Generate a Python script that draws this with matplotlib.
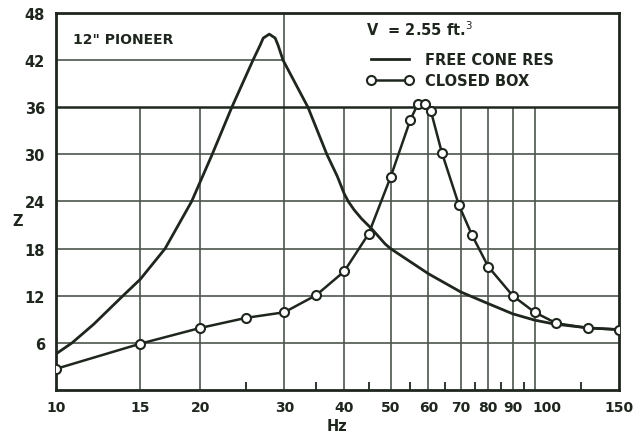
import matplotlib
matplotlib.use("Agg")
import matplotlib.pyplot as plt
import matplotlib.transforms as mtransforms
from matplotlib.ticker import FixedLocator, NullFormatter, FixedFormatter

# free cone resonance curve
free_hz = [10, 10.8, 12, 13.8, 15, 16.9, 19.2, 21.2, 23.3, 25.8, 26.7, 27.1, 27.9,
           28.7, 29.1, 29.8, 33.6, 36.8, 38.7, 40, 40.8, 42, 43.5, 45.7, 48.7, 50,
           60, 70, 80, 90, 100, 110, 130, 150]
free_z = [4.6, 6.0, 8.4, 12.0, 14.1, 18.0, 24.0, 30.0, 36.0, 42.0, 43.9, 44.8, 45.3,
          44.8, 43.9, 42.0, 36.0, 30.0, 27.2, 25.0, 24.0, 22.9, 21.8, 20.5, 18.6, 18.0,
          14.8, 12.5, 11.0, 9.7, 8.9, 8.4, 7.9, 7.7]

# closed box measurements
box_hz = [10, 15, 20, 25, 30, 35, 40, 45, 50, 55, 57, 59, 60.7, 64, 69.5, 74, 80, 90, 100, 111, 129, 150]
box_z = [2.7, 5.9, 7.9, 9.2, 9.9, 12.1, 15.1, 19.9, 27.1, 34.4, 36.4, 36.4, 35.5,
         30.2, 23.5, 19.7, 15.7, 12.0, 9.9, 8.5, 7.9, 7.7]

x_ticks = [10, 15, 20, 30, 40, 50, 60, 70, 80, 90, 100, 150]
x_minor = [25, 35, 45, 55, 65, 75, 85, 95, 125]
y_ticks = [6, 12, 18, 24, 30, 36, 42, 48]

ink = "#1e261e"
grid_c = "#4d554d"

plt.rcParams["font.family"] = "DejaVu Sans"

fig = plt.figure(figsize=(6.34, 4.35), dpi=100)
ax = fig.add_axes([0.0883, 0.101, 0.888, 0.867])
ax.set_xscale("log")
ax.set_xlim(10, 150)
ax.set_ylim(0, 48)

# grid, broken around the label boxes at the top
for f in [15, 20, 40, 50, 60, 70, 80, 90, 100]:
    ax.vlines(f, 0, 36, color=grid_c, lw=1.2, zorder=1)
ax.vlines(30, 0, 48, color=grid_c, lw=1.2, zorder=1)
for z in [6, 12, 18, 24, 30]:
    ax.hlines(z, 10, 150, color=grid_c, lw=1.2, zorder=1)
ax.hlines(36, 10, 150, color=ink, lw=1.8, zorder=1)
ax.hlines(42, 10, 30, color=grid_c, lw=1.2, zorder=1)

ax.plot(free_hz, free_z, color=ink, lw=2.0, solid_joinstyle="round",
        zorder=3, label="FREE CONE RES")
ax.plot(box_hz, box_z, color=ink, lw=1.8, marker="o", ms=6.5,
        mfc="white", mec=ink, mew=1.5, zorder=4, label="CLOSED BOX")

for s in ax.spines.values():
    s.set_linewidth(2.0)
    s.set_color(ink)

ax.xaxis.set_major_locator(FixedLocator(x_ticks))
ax.xaxis.set_major_formatter(FixedFormatter([str(v) for v in x_ticks]))
ax.xaxis.set_minor_locator(FixedLocator(x_minor))
ax.xaxis.set_minor_formatter(NullFormatter())
ax.set_yticks(y_ticks)
ax.tick_params(axis="x", which="major", length=0, pad=7, labelsize=10, colors=ink)
ax.tick_params(axis="x", which="minor", direction="in", length=6, width=1.3, color=ink)
ax.tick_params(axis="y", which="major", length=0, pad=8, labelsize=10.5, colors=ink)
for t in ax.get_xticklabels() + ax.get_yticklabels():
    t.set_fontweight("bold")

# the "100" label sits a little right of its line in the original
lab100 = ax.get_xticklabels()[x_ticks.index(100)]
lab100.set_transform(lab100.get_transform() +
                     mtransforms.ScaledTranslation(9 / 72, 0, fig.dpi_scale_trans))

ax.set_xlabel("Hz", fontsize=10.5, fontweight="bold", color=ink, labelpad=3)
ax.set_ylabel("Z", fontsize=10.5, fontweight="bold", color=ink, rotation=0,
              va="center", ha="center")
ax.yaxis.set_label_coords(-0.068, 0.45)

ax.text(0.03, 0.93, '12" PIONEER', transform=ax.transAxes, fontsize=10,
        fontweight="bold", color=ink, va="center")
ax.text(0.551, 0.958, "V  = 2.55 ft.$^3$", transform=ax.transAxes, fontsize=10.5,
        fontweight="bold", color=ink, va="center")

leg = ax.legend(loc="upper left", bbox_to_anchor=(0.552, 0.897), frameon=False,
                fontsize=10.5, handlelength=3.2, handletextpad=0.8,
                labelspacing=0.45, numpoints=2, borderpad=0, borderaxespad=0)
for t in leg.get_texts():
    t.set_fontweight("bold")
    t.set_color(ink)

fig.savefig("out.png", dpi=100)
